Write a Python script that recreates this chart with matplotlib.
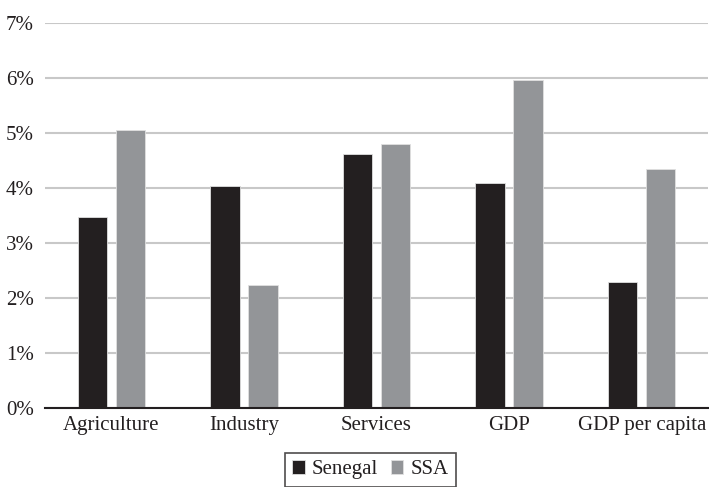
import matplotlib
matplotlib.use("Agg")
import matplotlib.pyplot as plt
import numpy as np
from matplotlib.ticker import FuncFormatter

categories = ["Agriculture", "Industry", "Services", "GDP", "GDP per capita"]
senegal = [3.47, 4.03, 4.62, 4.09, 2.28]
ssa = [5.04, 2.24, 4.79, 5.95, 4.34]
series_names = ["Senegal", "SSA"]
yticks = [0, 1, 2, 3, 4, 5, 6, 7]

plt.rcParams['font.family'] = ['Liberation Serif', 'DejaVu Serif']

fig = plt.figure(figsize=(7.09, 4.87), dpi=100)
ax = fig.add_axes([45/709, 1-408/487, 663/709, (408-22.5)/487])

x = np.arange(len(categories))
w = 0.222
off = 0.143
ax.bar(x - off, senegal, width=w, color="#231f20", edgecolor="#e0e0e0", linewidth=0.6, label=series_names[0], zorder=3)
ax.bar(x + off, ssa, width=w, color="#939598", edgecolor="#e0e0e0", linewidth=0.6, label=series_names[1], zorder=3)

ax.set_xlim(-0.5, len(categories) - 0.5)
ax.set_ylim(0, 7)
ax.set_yticks(yticks)
ax.yaxis.set_major_formatter(FuncFormatter(lambda v, p: f"{int(v)}%"))
ax.set_xticks(x)
ax.set_xticklabels(categories)
ax.grid(axis='y', color="#c8c8c8", linewidth=1.5, zorder=0)
ax.set_axisbelow(True)
for s in ["top", "right", "left"]:
    ax.spines[s].set_visible(False)
ax.spines["bottom"].set_color("#231f20")
ax.spines["bottom"].set_linewidth(1.5)
ax.spines["bottom"].set_zorder(4)
ax.tick_params(axis='both', length=0, labelsize=15, colors="#231f20")
ax.tick_params(axis='y', pad=8)
ax.tick_params(axis='x', pad=6)

leg = fig.legend(loc="upper center", bbox_to_anchor=(370.5/709, 1-453/487), ncol=2,
                 frameon=True, fancybox=False, edgecolor="#231f20", fontsize=15,
                 handlelength=0.6, handleheight=0.6, handletextpad=0.35, columnspacing=0.6,
                 borderpad=0.35, borderaxespad=0)
leg.get_frame().set_linewidth(1.2)
for t in leg.get_texts():
    t.set_color("#231f20")

fig.savefig("out.png", dpi=100)
